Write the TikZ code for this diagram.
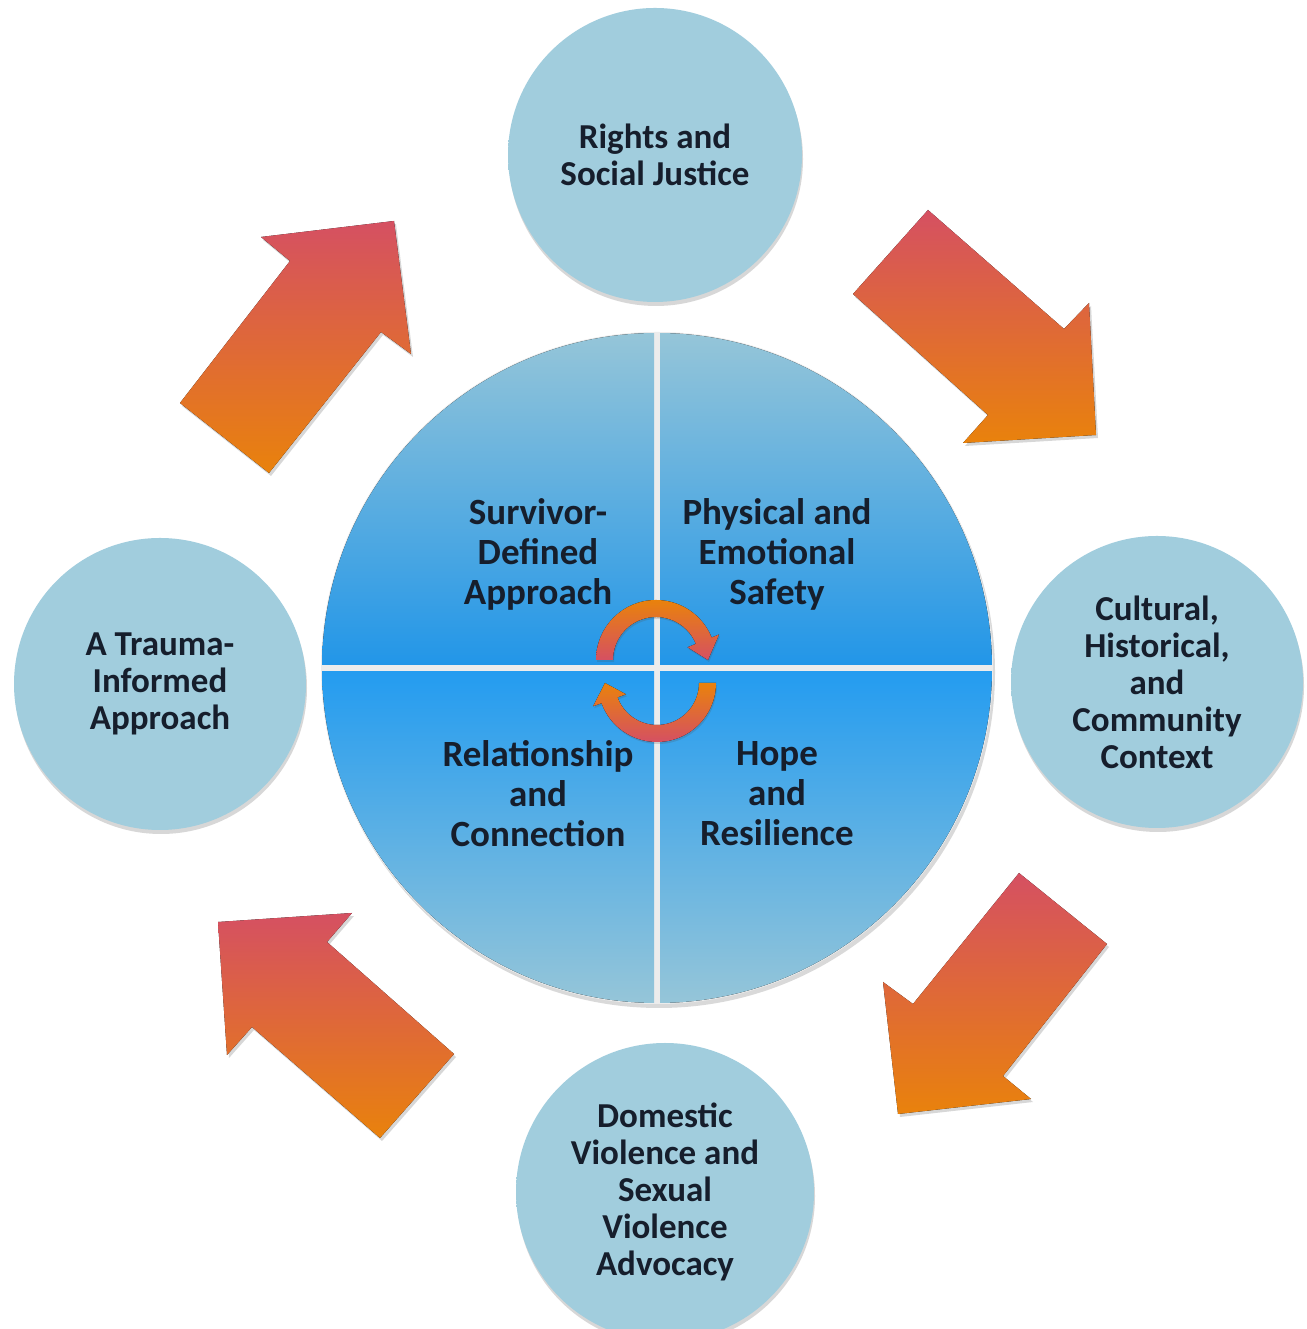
\documentclass[tikz,border=0pt]{standalone}
\usepackage{fontspec}
\setmainfont{Carlito}
\usepackage{tikz}
\usetikzlibrary{calc, shadows}

\definecolor{satin}{RGB}{161,205,221}
\definecolor{satout}{RGB}{108,168,208}
\definecolor{qlight}{RGB}{151,198,216}
\definecolor{qdeep}{RGB}{34,150,232}
\definecolor{qbright}{RGB}{36,156,240}
\definecolor{arrowpink}{RGB}{213,80,98}
\definecolor{arroworange}{RGB}{233,130,12}
\definecolor{textnavy}{RGB}{22,30,44}

\pgfdeclareradialshading{rimshade}{\pgfpoint{0bp}{0bp}}{color(0bp)=(satin); color(38bp)=(satin); color(50bp)=(satout)}

\begin{document}
\begin{tikzpicture}[
    x=1pt, y=1pt,
    sat/.style={circle, minimum size=294pt, inner sep=0pt, shading=rimshade, align=center, text=textnavy, font=\fontsize{35}{37}\selectfont\bfseries, drop shadow={shadow xshift=1pt, shadow yshift=-4pt, opacity=0.22, fill=black!70}},
    quad_lbl/.style={align=center, text=textnavy, font=\fontsize{37}{40}\selectfont\bfseries},
    block_arrow/.style={top color=arrowpink, bottom color=arroworange, drop shadow={shadow xshift=2pt, shadow yshift=-3pt, opacity=0.22, fill=black!70}},
    ring_arrow/.style={top color=arroworange, bottom color=arrowpink, drop shadow={shadow xshift=1pt, shadow yshift=-2pt, opacity=0.2, fill=black!70}},
    upper_q/.style={top color=qlight, middle color=qlight!82!qdeep, bottom color=qdeep},
    lower_q/.style={top color=qbright, middle color=qlight!80!qbright, bottom color=qlight}
    ]

    \fill[white] (0,0) rectangle (1306,1329);
    \useasboundingbox (0,0) rectangle (1306,1329);

    % Hub
    \coordinate (hub) at (657,661);
    \fill[black, opacity=0.15] ($(hub)+(2,-4)$) circle (336);
    \fill[gray!15] (hub) circle (336);
    \begin{scope}
        \clip (hub) circle (335);
        \fill[upper_q] ($(hub)+(-340,3)$) rectangle ($(hub)+(-3,340)$);
        \fill[upper_q] ($(hub)+(3,3)$) rectangle ($(hub)+(340,340)$);
        \fill[lower_q] ($(hub)+(-340,-4)$) rectangle ($(hub)+(-3,-340)$);
        \fill[lower_q] ($(hub)+(3,-4)$) rectangle ($(hub)+(340,-340)$);
    \end{scope}

    \node[quad_lbl] (survivor) at (538,775) {Survivor-\\Defined\\Approach};
    \node[quad_lbl] (safety) at (777,775) {Physical and\\Emotional\\Safety};
    \node[quad_lbl] (relation) at (538,535) {Relationship\\and\\Connection};
    \node[quad_lbl] (hope) at (777,535) {Hope\\and\\Resilience};

    % Ring arrows
    \coordinate (ring_top) at (656,669);
    \coordinate (ring_bot) at (657,646);
    \fill[ring_arrow] ($(ring_top)+(180:60)$) arc[start angle=180, end angle=22, radius=60]
        -- ($(ring_top)+(22:68)$) -- ($(ring_top)+(0:52)$) -- ($(ring_top)+(22:34)$)
        -- ($(ring_top)+(22:43)$) arc[start angle=22, end angle=180, radius=43] -- cycle;
    \fill[ring_arrow] ($(ring_bot)+(0:59)$) arc[start angle=0, end angle=-160, radius=59]
        -- ($(ring_bot)+(-160:68)$) -- ($(ring_bot)+(-180:52)$) -- ($(ring_bot)+(-160:33)$)
        -- ($(ring_bot)+(-160:42)$) arc[start angle=-160, end angle=0, radius=42] -- cycle;

    % Satellites
    \node[sat] (rights) at (655,1174) {Rights and\\Social Justice};
    \node[sat, minimum size=292pt] (context) at (1157,647) {Cultural,\\Historical,\\and\\Community\\Context};
    \node[sat, minimum size=298pt] (advocacy) at (665,137) {Domestic\\Violence and\\Sexual\\Violence\\Advocacy};
    \node[sat, minimum size=292pt] (trauma) at (160,645) {A Trauma-\\Informed\\Approach};

    % Block arrows
    \fill[block_arrow] (180,926) -- (290,1068) -- (261,1092) -- (394,1108) -- (411,975) -- (381,997) -- (269,856) -- cycle;
    \fill[block_arrow] (853,1035) -- (928,1119) -- (1064,1000) -- (1089,1026) -- (1096,894) -- (963,886) -- (988,914) -- cycle;
    \fill[block_arrow] (1019,456) -- (1107,385) -- (1003,253) -- (1031,230) -- (898,215) -- (883,347) -- (913,325) -- cycle;
    \fill[block_arrow] (218,407) -- (352,416) -- (327,387) -- (454,275) -- (380,191) -- (252,302) -- (227,274) -- cycle;
\end{tikzpicture}
\end{document}
